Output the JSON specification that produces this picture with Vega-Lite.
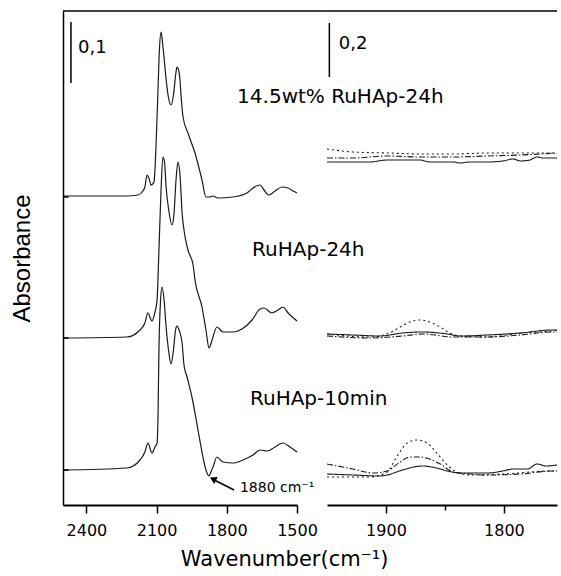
{
  "$schema": "https://vega.github.io/schema/vega-lite/v6.json",
  "padding": {"left": 10, "top": 10, "right": 0, "bottom": 0},
  "config": {
    "view": {"stroke": null},
    "font": "DejaVu Sans",
    "axis": {"domainColor": "black", "tickColor": "black", "labelColor": "black", "titleColor": "black", "grid": false, "domainWidth": 1.5, "tickWidth": 1.5, "labelFont": "DejaVu Sans", "labelFontSize": 16, "titleFontWeight": "normal"}
  },
  "title": {"text": "Wavenumber(cm⁻¹)", "orient": "bottom", "anchor": "middle", "fontSize": 21, "fontWeight": "normal", "font": "DejaVu Sans", "color": "black", "offset": 11},
  "datasets": {
    "left": [
      {"s":"14.5wt% RuHAp-24h","wn":2500,"abs":309},{"s":"14.5wt% RuHAp-24h","wn":2300,"abs":309},{"s":"14.5wt% RuHAp-24h","wn":2227,"abs":309},{"s":"14.5wt% RuHAp-24h","wn":2180,"abs":310},{"s":"14.5wt% RuHAp-24h","wn":2162,"abs":313},{"s":"14.5wt% RuHAp-24h","wn":2150,"abs":318},{"s":"14.5wt% RuHAp-24h","wn":2141,"abs":330},{"s":"14.5wt% RuHAp-24h","wn":2133,"abs":327},{"s":"14.5wt% RuHAp-24h","wn":2124,"abs":320},{"s":"14.5wt% RuHAp-24h","wn":2117,"abs":321},{"s":"14.5wt% RuHAp-24h","wn":2111,"abs":323},{"s":"14.5wt% RuHAp-24h","wn":2107,"abs":335},{"s":"14.5wt% RuHAp-24h","wn":2100,"abs":375},{"s":"14.5wt% RuHAp-24h","wn":2094,"abs":415},{"s":"14.5wt% RuHAp-24h","wn":2088,"abs":455},{"s":"14.5wt% RuHAp-24h","wn":2081,"abs":473},{"s":"14.5wt% RuHAp-24h","wn":2075,"abs":463},{"s":"14.5wt% RuHAp-24h","wn":2068,"abs":447},{"s":"14.5wt% RuHAp-24h","wn":2060,"abs":427},{"s":"14.5wt% RuHAp-24h","wn":2049,"abs":407},{"s":"14.5wt% RuHAp-24h","wn":2038,"abs":400},{"s":"14.5wt% RuHAp-24h","wn":2028,"abs":410},{"s":"14.5wt% RuHAp-24h","wn":2017,"abs":433},{"s":"14.5wt% RuHAp-24h","wn":2013,"abs":438},{"s":"14.5wt% RuHAp-24h","wn":2006,"abs":435},{"s":"14.5wt% RuHAp-24h","wn":2000,"abs":425},{"s":"14.5wt% RuHAp-24h","wn":1994,"abs":405},{"s":"14.5wt% RuHAp-24h","wn":1987,"abs":388},{"s":"14.5wt% RuHAp-24h","wn":1966,"abs":372},{"s":"14.5wt% RuHAp-24h","wn":1936,"abs":352},{"s":"14.5wt% RuHAp-24h","wn":1906,"abs":325},{"s":"14.5wt% RuHAp-24h","wn":1889,"abs":308},{"s":"14.5wt% RuHAp-24h","wn":1872,"abs":308},{"s":"14.5wt% RuHAp-24h","wn":1859,"abs":309},{"s":"14.5wt% RuHAp-24h","wn":1838,"abs":307},{"s":"14.5wt% RuHAp-24h","wn":1774,"abs":308},{"s":"14.5wt% RuHAp-24h","wn":1714,"abs":312},{"s":"14.5wt% RuHAp-24h","wn":1688,"abs":317},{"s":"14.5wt% RuHAp-24h","wn":1658,"abs":320},{"s":"14.5wt% RuHAp-24h","wn":1641,"abs":315},{"s":"14.5wt% RuHAp-24h","wn":1620,"abs":310},{"s":"14.5wt% RuHAp-24h","wn":1594,"abs":314},{"s":"14.5wt% RuHAp-24h","wn":1564,"abs":318},{"s":"14.5wt% RuHAp-24h","wn":1538,"abs":317},{"s":"14.5wt% RuHAp-24h","wn":1517,"abs":314},{"s":"14.5wt% RuHAp-24h","wn":1500,"abs":312},
      {"s":"RuHAp-24h","wn":2500,"abs":167},{"s":"RuHAp-24h","wn":2227,"abs":168},{"s":"RuHAp-24h","wn":2171,"abs":175},{"s":"RuHAp-24h","wn":2150,"abs":182},{"s":"RuHAp-24h","wn":2137,"abs":192},{"s":"RuHAp-24h","wn":2120,"abs":184},{"s":"RuHAp-24h","wn":2107,"abs":193},{"s":"RuHAp-24h","wn":2098,"abs":205},{"s":"RuHAp-24h","wn":2090,"abs":255},{"s":"RuHAp-24h","wn":2081,"abs":315},{"s":"RuHAp-24h","wn":2073,"abs":348},{"s":"RuHAp-24h","wn":2066,"abs":343},{"s":"RuHAp-24h","wn":2060,"abs":320},{"s":"RuHAp-24h","wn":2047,"abs":293},{"s":"RuHAp-24h","wn":2034,"abs":280},{"s":"RuHAp-24h","wn":2026,"abs":290},{"s":"RuHAp-24h","wn":2017,"abs":325},{"s":"RuHAp-24h","wn":2009,"abs":343},{"s":"RuHAp-24h","wn":2000,"abs":330},{"s":"RuHAp-24h","wn":1991,"abs":292},{"s":"RuHAp-24h","wn":1983,"abs":275},{"s":"RuHAp-24h","wn":1966,"abs":255},{"s":"RuHAp-24h","wn":1944,"abs":240},{"s":"RuHAp-24h","wn":1936,"abs":225},{"s":"RuHAp-24h","wn":1906,"abs":198},{"s":"RuHAp-24h","wn":1889,"abs":175},{"s":"RuHAp-24h","wn":1876,"abs":157},{"s":"RuHAp-24h","wn":1863,"abs":165},{"s":"RuHAp-24h","wn":1842,"abs":178},{"s":"RuHAp-24h","wn":1816,"abs":173},{"s":"RuHAp-24h","wn":1774,"abs":173},{"s":"RuHAp-24h","wn":1735,"abs":176},{"s":"RuHAp-24h","wn":1692,"abs":185},{"s":"RuHAp-24h","wn":1658,"abs":196},{"s":"RuHAp-24h","wn":1641,"abs":197},{"s":"RuHAp-24h","wn":1607,"abs":192},{"s":"RuHAp-24h","wn":1581,"abs":195},{"s":"RuHAp-24h","wn":1560,"abs":198},{"s":"RuHAp-24h","wn":1538,"abs":192},{"s":"RuHAp-24h","wn":1500,"abs":184},
      {"s":"RuHAp-10min","wn":2500,"abs":35},{"s":"RuHAp-10min","wn":2227,"abs":37},{"s":"RuHAp-10min","wn":2171,"abs":45},{"s":"RuHAp-10min","wn":2150,"abs":53},{"s":"RuHAp-10min","wn":2137,"abs":62},{"s":"RuHAp-10min","wn":2120,"abs":52},{"s":"RuHAp-10min","wn":2107,"abs":58},{"s":"RuHAp-10min","wn":2098,"abs":62},{"s":"RuHAp-10min","wn":2094,"abs":88},{"s":"RuHAp-10min","wn":2090,"abs":155},{"s":"RuHAp-10min","wn":2083,"abs":205},{"s":"RuHAp-10min","wn":2077,"abs":218},{"s":"RuHAp-10min","wn":2068,"abs":205},{"s":"RuHAp-10min","wn":2060,"abs":180},{"s":"RuHAp-10min","wn":2049,"abs":155},{"s":"RuHAp-10min","wn":2038,"abs":141},{"s":"RuHAp-10min","wn":2028,"abs":155},{"s":"RuHAp-10min","wn":2019,"abs":175},{"s":"RuHAp-10min","wn":2013,"abs":179},{"s":"RuHAp-10min","wn":2004,"abs":175},{"s":"RuHAp-10min","wn":1991,"abs":162},{"s":"RuHAp-10min","wn":1983,"abs":140},{"s":"RuHAp-10min","wn":1970,"abs":128},{"s":"RuHAp-10min","wn":1949,"abs":108},{"s":"RuHAp-10min","wn":1923,"abs":75},{"s":"RuHAp-10min","wn":1902,"abs":48},{"s":"RuHAp-10min","wn":1889,"abs":35},{"s":"RuHAp-10min","wn":1876,"abs":29},{"s":"RuHAp-10min","wn":1868,"abs":33},{"s":"RuHAp-10min","wn":1859,"abs":38},{"s":"RuHAp-10min","wn":1842,"abs":48},{"s":"RuHAp-10min","wn":1816,"abs":43},{"s":"RuHAp-10min","wn":1774,"abs":42},{"s":"RuHAp-10min","wn":1731,"abs":45},{"s":"RuHAp-10min","wn":1688,"abs":50},{"s":"RuHAp-10min","wn":1658,"abs":55},{"s":"RuHAp-10min","wn":1628,"abs":54},{"s":"RuHAp-10min","wn":1594,"abs":58},{"s":"RuHAp-10min","wn":1560,"abs":62},{"s":"RuHAp-10min","wn":1530,"abs":58},{"s":"RuHAp-10min","wn":1500,"abs":53}
    ],
    "right": [
      {"g":"A","st":"dotted","wn":1950,"abs":356},{"g":"A","st":"dotted","wn":1928,"abs":353},{"g":"A","st":"dotted","wn":1899,"abs":352},{"g":"A","st":"dotted","wn":1871,"abs":351},{"g":"A","st":"dotted","wn":1843,"abs":351},{"g":"A","st":"dotted","wn":1814,"abs":352},{"g":"A","st":"dotted","wn":1786,"abs":352},{"g":"A","st":"dotted","wn":1755,"abs":352},
      {"g":"A","st":"dash-dot","wn":1950,"abs":347},{"g":"A","st":"dash-dot","wn":1928,"abs":347},{"g":"A","st":"dash-dot","wn":1899,"abs":349},{"g":"A","st":"dash-dot","wn":1871,"abs":348},{"g":"A","st":"dash-dot","wn":1843,"abs":348},{"g":"A","st":"dash-dot","wn":1814,"abs":349},{"g":"A","st":"dash-dot","wn":1786,"abs":350},{"g":"A","st":"dash-dot","wn":1755,"abs":352},
      {"g":"A","st":"solid","wn":1950,"abs":343},{"g":"A","st":"solid","wn":1928,"abs":343},{"g":"A","st":"solid","wn":1914,"abs":343},{"g":"A","st":"solid","wn":1899,"abs":345},{"g":"A","st":"solid","wn":1886,"abs":345},{"g":"A","st":"solid","wn":1871,"abs":345},{"g":"A","st":"solid","wn":1863,"abs":343},{"g":"A","st":"solid","wn":1854,"abs":343},{"g":"A","st":"solid","wn":1843,"abs":343},{"g":"A","st":"solid","wn":1837,"abs":342},{"g":"A","st":"solid","wn":1829,"abs":343},{"g":"A","st":"solid","wn":1814,"abs":343},{"g":"A","st":"solid","wn":1801,"abs":344},{"g":"A","st":"solid","wn":1792,"abs":346},{"g":"A","st":"solid","wn":1786,"abs":344},{"g":"A","st":"solid","wn":1778,"abs":345},{"g":"A","st":"solid","wn":1772,"abs":348},{"g":"A","st":"solid","wn":1767,"abs":347},{"g":"A","st":"solid","wn":1759,"abs":347},{"g":"A","st":"solid","wn":1755,"abs":347},
      {"g":"B","st":"dotted","wn":1950,"abs":171},{"g":"B","st":"dotted","wn":1914,"abs":168},{"g":"B","st":"dotted","wn":1897,"abs":172},{"g":"B","st":"dotted","wn":1888,"abs":178},{"g":"B","st":"dotted","wn":1880,"abs":183},{"g":"B","st":"dotted","wn":1871,"abs":185},{"g":"B","st":"dotted","wn":1863,"abs":183},{"g":"B","st":"dotted","wn":1854,"abs":178},{"g":"B","st":"dotted","wn":1846,"abs":172},{"g":"B","st":"dotted","wn":1837,"abs":169},{"g":"B","st":"dotted","wn":1814,"abs":168},{"g":"B","st":"dotted","wn":1786,"abs":172},{"g":"B","st":"dotted","wn":1759,"abs":174},{"g":"B","st":"dotted","wn":1755,"abs":175},
      {"g":"B","st":"solid","wn":1950,"abs":171},{"g":"B","st":"solid","wn":1928,"abs":170},{"g":"B","st":"solid","wn":1905,"abs":169},{"g":"B","st":"solid","wn":1886,"abs":172},{"g":"B","st":"solid","wn":1869,"abs":173},{"g":"B","st":"solid","wn":1848,"abs":171},{"g":"B","st":"solid","wn":1837,"abs":169},{"g":"B","st":"solid","wn":1814,"abs":170},{"g":"B","st":"solid","wn":1786,"abs":172},{"g":"B","st":"solid","wn":1759,"abs":175},{"g":"B","st":"solid","wn":1755,"abs":175},
      {"g":"B","st":"dash-dot","wn":1950,"abs":169},{"g":"B","st":"dash-dot","wn":1914,"abs":167},{"g":"B","st":"dash-dot","wn":1886,"abs":169},{"g":"B","st":"dash-dot","wn":1869,"abs":171},{"g":"B","st":"dash-dot","wn":1843,"abs":168},{"g":"B","st":"dash-dot","wn":1814,"abs":168},{"g":"B","st":"dash-dot","wn":1786,"abs":170},{"g":"B","st":"dash-dot","wn":1759,"abs":173},{"g":"B","st":"dash-dot","wn":1755,"abs":173},
      {"g":"C","st":"dash-dot","wn":1950,"abs":41},{"g":"C","st":"dash-dot","wn":1928,"abs":36},{"g":"C","st":"dash-dot","wn":1911,"abs":32},{"g":"C","st":"dash-dot","wn":1899,"abs":34},{"g":"C","st":"dash-dot","wn":1888,"abs":43},{"g":"C","st":"dash-dot","wn":1880,"abs":48},{"g":"C","st":"dash-dot","wn":1871,"abs":48},{"g":"C","st":"dash-dot","wn":1863,"abs":46},{"g":"C","st":"dash-dot","wn":1854,"abs":41},{"g":"C","st":"dash-dot","wn":1843,"abs":33},{"g":"C","st":"dash-dot","wn":1829,"abs":31},{"g":"C","st":"dash-dot","wn":1814,"abs":30},{"g":"C","st":"dash-dot","wn":1786,"abs":31},{"g":"C","st":"dash-dot","wn":1759,"abs":34},{"g":"C","st":"dash-dot","wn":1755,"abs":34},
      {"g":"C","st":"dotted","wn":1950,"abs":28},{"g":"C","st":"dotted","wn":1914,"abs":28},{"g":"C","st":"dotted","wn":1899,"abs":33},{"g":"C","st":"dotted","wn":1891,"abs":48},{"g":"C","st":"dotted","wn":1882,"abs":62},{"g":"C","st":"dotted","wn":1874,"abs":65},{"g":"C","st":"dotted","wn":1865,"abs":62},{"g":"C","st":"dotted","wn":1857,"abs":52},{"g":"C","st":"dotted","wn":1848,"abs":40},{"g":"C","st":"dotted","wn":1840,"abs":33},{"g":"C","st":"dotted","wn":1829,"abs":30},{"g":"C","st":"dotted","wn":1801,"abs":31},{"g":"C","st":"dotted","wn":1759,"abs":34},{"g":"C","st":"dotted","wn":1755,"abs":34},
      {"g":"C","st":"solid","wn":1950,"abs":31},{"g":"C","st":"solid","wn":1928,"abs":30},{"g":"C","st":"solid","wn":1905,"abs":29},{"g":"C","st":"solid","wn":1899,"abs":30},{"g":"C","st":"solid","wn":1886,"abs":35},{"g":"C","st":"solid","wn":1869,"abs":39},{"g":"C","st":"solid","wn":1857,"abs":37},{"g":"C","st":"solid","wn":1848,"abs":34},{"g":"C","st":"solid","wn":1837,"abs":32},{"g":"C","st":"solid","wn":1814,"abs":32},{"g":"C","st":"solid","wn":1801,"abs":34},{"g":"C","st":"solid","wn":1792,"abs":36},{"g":"C","st":"solid","wn":1780,"abs":36},{"g":"C","st":"solid","wn":1772,"abs":41},{"g":"C","st":"solid","wn":1764,"abs":39},{"g":"C","st":"solid","wn":1755,"abs":40}
    ],
    "leftRules": [
      {"wn":2500,"wn2":1372,"abs":494,"abs2":494},
      {"wn":2466,"wn2":2466,"abs":483,"abs2":422},
      {"wn":1769,"wn2":1862,"abs":15,"abs2":26},
      {"wn":2500,"wn2":2476,"abs":308,"abs2":308},
      {"wn":2500,"wn2":2476,"abs":167,"abs2":167},
      {"wn":2500,"wn2":2476,"abs":35,"abs2":35}
    ],
    "arrowHead": [{"wn":1859,"abs":26}],
    "sampleLabels": [
      {"wn":1756,"abs":408,"label":"14.5wt% RuHAp-24h"},
      {"wn":1692,"abs":255,"label":"RuHAp-24h"},
      {"wn":1701,"abs":106,"label":"RuHAp-10min"}
    ],
    "leftScale": [{"wn":2436,"abs":457,"label":"0,1"}],
    "annot": [{"wn":1744,"abs":17,"label":"1880 cm⁻¹"}],
    "rightRules": [
      {"wn":1950,"wn2":1755,"abs":494,"abs2":494},
      {"wn":1948,"wn2":1948,"abs":482,"abs2":428}
    ],
    "rightScale": [{"wn":1940,"abs":461,"label":"0,2"}]
  },
  "spacing": 30,
  "bounds": "flush",
  "hconcat": [
    {
      "width": 234,
      "height": 494,
      "layer": [
        {
          "data": {"name": "left"},
          "mark": {"type": "line", "interpolate": "monotone", "strokeWidth": 1.2, "color": "#1a1a1a"},
          "encoding": {
            "x": {"field": "wn", "type": "quantitative", "scale": {"domain": [1500, 2500], "reverse": true, "nice": false, "zero": false},
                  "axis": {"title": null, "values": [2400, 2250, 2100, 1950, 1800, 1650, 1500], "format": "d", "labelExpr": "datum.value % 300 === 0 ? datum.label : ''", "tickSize": {"condition": {"test": "datum.value % 300 === 0", "value": 8}, "value": 5}, "labelPadding": 9, "domainWidth": 2, "labelFlush": false}},
            "y": {"field": "abs", "type": "quantitative", "scale": {"domain": [0, 494], "nice": false, "zero": false},
                  "axis": {"title": "Absorbance", "labels": false, "ticks": false, "titleFont": "Liberation Sans", "titleFontSize": 24, "titlePadding": 29}},
            "detail": {"field": "s"}
          }
        },
        {
          "data": {"name": "leftRules"},
          "mark": {"type": "rule", "strokeWidth": 1.5, "color": "black", "clip": false},
          "encoding": {
            "x": {"field": "wn", "type": "quantitative"},
            "x2": {"field": "wn2"},
            "y": {"field": "abs", "type": "quantitative"},
            "y2": {"field": "abs2"}
          }
        },
        {
          "data": {"name": "arrowHead"},
          "mark": {"type": "point", "shape": "triangle-left", "angle": 27, "filled": true, "size": 60, "color": "black", "opacity": 1},
          "encoding": {
            "x": {"field": "wn", "type": "quantitative"},
            "y": {"field": "abs", "type": "quantitative"}
          }
        },
        {
          "data": {"name": "sampleLabels"},
          "mark": {"type": "text", "align": "left", "baseline": "middle", "fontSize": 20, "font": "DejaVu Sans", "color": "black"},
          "encoding": {
            "x": {"field": "wn", "type": "quantitative"},
            "y": {"field": "abs", "type": "quantitative"},
            "text": {"field": "label"}
          }
        },
        {
          "data": {"name": "leftScale"},
          "mark": {"type": "text", "align": "left", "baseline": "middle", "fontSize": 18, "font": "DejaVu Sans", "color": "black"},
          "encoding": {
            "x": {"field": "wn", "type": "quantitative"},
            "y": {"field": "abs", "type": "quantitative"},
            "text": {"field": "label"}
          }
        },
        {
          "data": {"name": "annot"},
          "mark": {"type": "text", "align": "left", "baseline": "middle", "fontSize": 14, "font": "DejaVu Sans", "color": "black"},
          "encoding": {
            "x": {"field": "wn", "type": "quantitative"},
            "y": {"field": "abs", "type": "quantitative"},
            "text": {"field": "label"}
          }
        }
      ]
    },
    {
      "width": 230,
      "height": 494,
      "layer": [
        {
          "data": {"name": "right"},
          "mark": {"type": "line", "interpolate": "monotone", "strokeWidth": 1.1, "color": "#1a1a1a"},
          "encoding": {
            "x": {"field": "wn", "type": "quantitative", "scale": {"domain": [1755, 1950], "reverse": true, "nice": false, "zero": false},
                  "axis": {"title": null, "values": [1900, 1850, 1800], "format": "d", "labelExpr": "datum.value % 100 === 0 ? datum.label : ''", "tickSize": {"condition": {"test": "datum.value % 100 === 0", "value": 8}, "value": 5}, "labelPadding": 9, "domainWidth": 2}},
            "y": {"field": "abs", "type": "quantitative", "scale": {"domain": [0, 494], "nice": false, "zero": false}, "axis": null},
            "detail": [{"field": "g"}, {"field": "st"}],
            "strokeDash": {"field": "st", "type": "nominal", "scale": {"domain": ["solid", "dash-dot", "dotted"], "range": [[1, 0], [6, 2, 1.5, 2], [2, 3]]}, "legend": null}
          }
        },
        {
          "data": {"name": "rightRules"},
          "mark": {"type": "rule", "strokeWidth": 1.5, "color": "black", "clip": false},
          "encoding": {
            "x": {"field": "wn", "type": "quantitative"},
            "x2": {"field": "wn2"},
            "y": {"field": "abs", "type": "quantitative"},
            "y2": {"field": "abs2"}
          }
        },
        {
          "data": {"name": "rightScale"},
          "mark": {"type": "text", "align": "left", "baseline": "middle", "fontSize": 18, "font": "DejaVu Sans", "color": "black"},
          "encoding": {
            "x": {"field": "wn", "type": "quantitative"},
            "y": {"field": "abs", "type": "quantitative"},
            "text": {"field": "label"}
          }
        }
      ]
    }
  ]
}
